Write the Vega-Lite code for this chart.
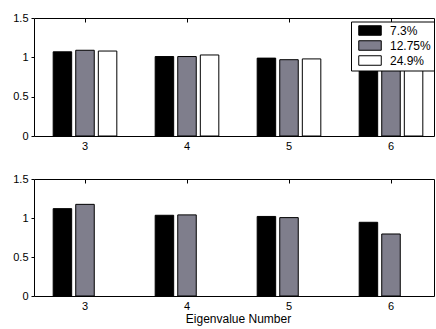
{
  "$schema": "https://vega.github.io/schema/vega-lite/v6.json",
  "background": "white",
  "padding": {"left": 12, "top": 11, "right": 0, "bottom": 2},
  "config": {
    "font": "Liberation Sans",
    "view": {"stroke": "black", "strokeWidth": 1},
    "axis": {
      "domain": false,
      "grid": false,
      "ticks": true,
      "tickColor": "black",
      "labelFontSize": 11,
      "labelColor": "black",
      "labelFont": "Liberation Sans",
      "titleFont": "Liberation Sans",
      "titleFontSize": 12,
      "titleFontWeight": "normal",
      "titleColor": "black"
    },
    "axisX": {"tickSize": -4},
    "axisY": {"tickSize": 3}
  },
  "datasets": {
    "top": [
      {"n": 3, "series": "7.3%", "value": 1.07},
      {"n": 3, "series": "12.75%", "value": 1.09},
      {"n": 3, "series": "24.9%", "value": 1.08},
      {"n": 4, "series": "7.3%", "value": 1.01},
      {"n": 4, "series": "12.75%", "value": 1.01},
      {"n": 4, "series": "24.9%", "value": 1.03},
      {"n": 5, "series": "7.3%", "value": 0.99},
      {"n": 5, "series": "12.75%", "value": 0.97},
      {"n": 5, "series": "24.9%", "value": 0.98},
      {"n": 6, "series": "7.3%", "value": 0.98},
      {"n": 6, "series": "12.75%", "value": 0.97},
      {"n": 6, "series": "24.9%", "value": 0.96}
    ],
    "bottom": [
      {"n": 3, "series": "7.3%", "value": 1.12},
      {"n": 3, "series": "12.75%", "value": 1.175},
      {"n": 4, "series": "7.3%", "value": 1.035},
      {"n": 4, "series": "12.75%", "value": 1.04},
      {"n": 5, "series": "7.3%", "value": 1.02},
      {"n": 5, "series": "12.75%", "value": 1.005},
      {"n": 6, "series": "7.3%", "value": 0.945},
      {"n": 6, "series": "12.75%", "value": 0.795}
    ]
  },
  "bounds": "flush",
  "spacing": 43,
  "vconcat": [
    {
      "width": 400,
      "height": 118,
      "data": {"name": "top"},
      "resolve": {"axis": {"x": "independent"}},
      "layer": [
        {
          "mark": {"type": "bar", "stroke": "black", "strokeWidth": 1},
          "encoding": {
            "x": {"field": "n", "type": "ordinal", "scale": {"domain": [3, 4, 5, 6], "range": [0, 408], "paddingInner": 0, "paddingOuter": 0}, "axis": {"labelAngle": 0, "title": null, "labelPadding": 8}},
            "xOffset": {"field": "series", "type": "nominal", "sort": ["7.3%", "12.75%", "24.9%"], "scale": {"paddingInner": 0.18, "paddingOuter": 0.85}},
            "y": {"field": "value", "type": "quantitative", "scale": {"domain": [0, 1.5], "nice": false}, "axis": {"values": [0, 0.5, 1, 1.5], "format": ".1~f", "title": null, "labelPadding": 3}},
            "fill": {
              "field": "series", "type": "nominal",
              "scale": {"domain": ["7.3%", "12.75%", "24.9%"], "range": ["#000000", "#7f7e8c", "#ffffff"]},
              "legend": {
                "title": null,
                "orient": "none",
                "legendX": 317,
                "legendY": 3.5,
                "strokeColor": "black",
                "fillColor": "white",
                "padding": 3,
                "symbolType": "M-2.25,-0.95H2.25V0.95H-2.25Z",
                "symbolSize": 100,
                "symbolOffset": 10,
                "symbolStrokeColor": "black",
                "symbolStrokeWidth": 1,
                "symbolOpacity": 1,
                "labelFontSize": 12,
                "labelFont": "Liberation Sans",
                "labelColor": "black",
                "labelOffset": 14,
                "rowPadding": 1
              }
            }
          }
        },
        {
          "mark": {"type": "bar", "opacity": 0},
          "encoding": {
            "x": {"field": "n", "type": "ordinal", "axis": {"orient": "top", "labels": false, "title": null}}
          }
        }
      ]
    },
    {
      "width": 400,
      "height": 117,
      "data": {"name": "bottom"},
      "resolve": {"axis": {"x": "independent"}},
      "layer": [
        {
          "mark": {"type": "bar", "stroke": "black", "strokeWidth": 1},
          "encoding": {
            "x": {"field": "n", "type": "ordinal", "scale": {"domain": [3, 4, 5, 6], "range": [0, 408], "paddingInner": 0, "paddingOuter": 0}, "axis": {"labelAngle": 0, "title": "Eigenvalue Number", "labelPadding": 8, "titlePadding": 2}},
            "xOffset": {"field": "series", "type": "nominal", "sort": ["7.3%", "12.75%"], "scale": {"paddingInner": 0.17, "paddingOuter": 0.8}},
            "y": {"field": "value", "type": "quantitative", "scale": {"domain": [0, 1.5], "nice": false}, "axis": {"values": [0, 0.5, 1, 1.5], "format": ".1~f", "title": null, "labelPadding": 3}},
            "fill": {
              "field": "series", "type": "nominal",
              "scale": {"domain": ["7.3%", "12.75%"], "range": ["#000000", "#7f7e8c"]},
              "legend": null
            }
          }
        },
        {
          "mark": {"type": "bar", "opacity": 0},
          "encoding": {
            "x": {"field": "n", "type": "ordinal", "axis": {"orient": "top", "labels": false, "title": null}}
          }
        }
      ]
    }
  ]
}
